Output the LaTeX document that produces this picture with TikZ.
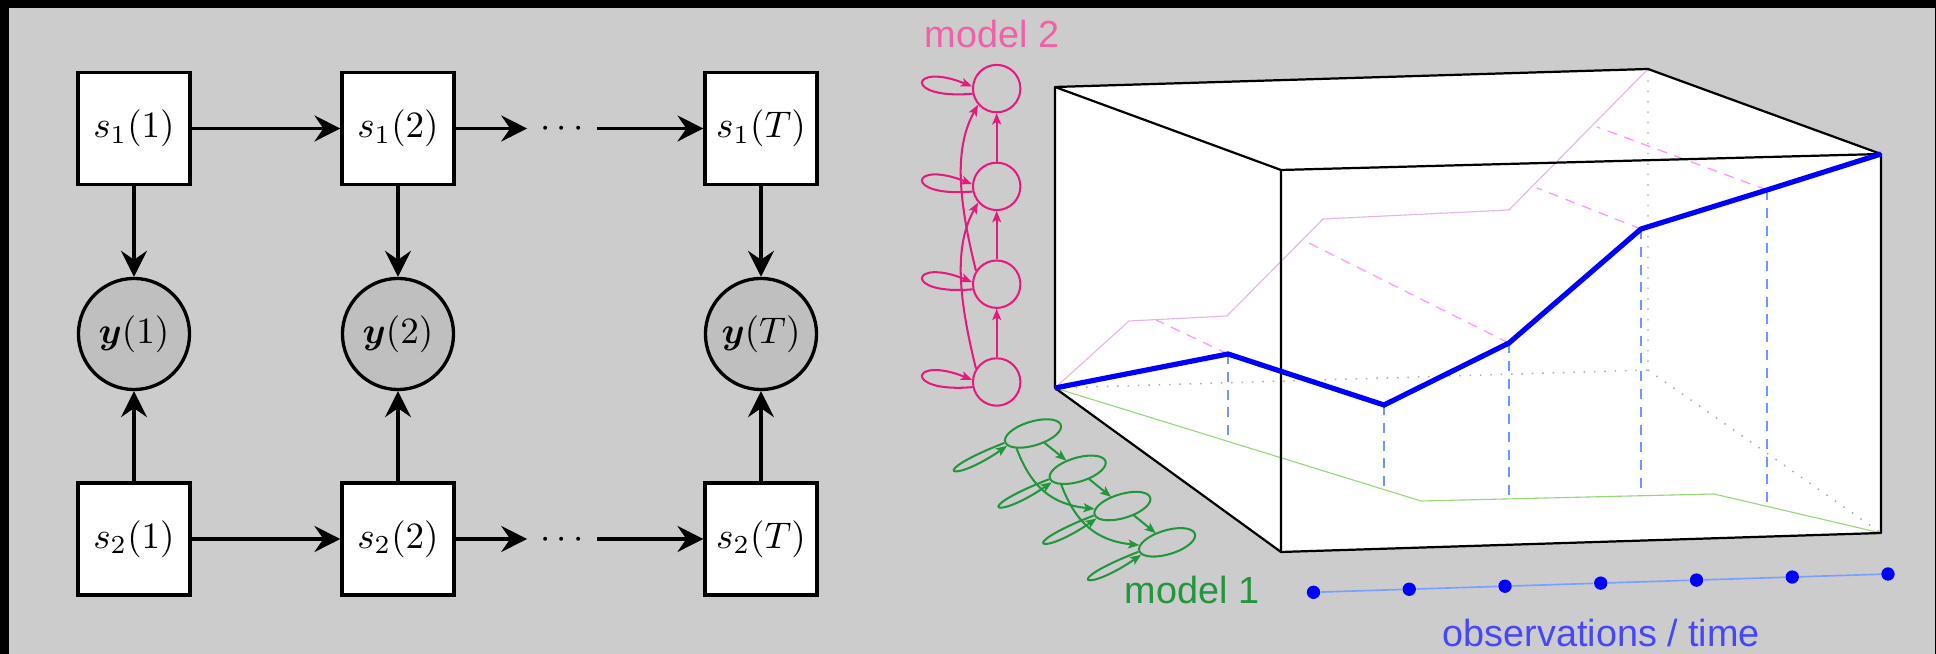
\documentclass[tikz,border=0pt]{standalone}
\usepackage{fontspec}
\usepackage{bm}
\usetikzlibrary{arrows.meta}
\newfontfamily\labelsans{Liberation Sans}

\definecolor{bggray}{RGB}{204,204,204}
\definecolor{obsgray}{RGB}{191,191,191}
\definecolor{mtwo}{RGB}{230,25,125}
\definecolor{mtwotext}{RGB}{242,96,168}
\definecolor{mone}{RGB}{34,150,60}
\definecolor{trajblue}{RGB}{0,0,255}
\definecolor{axisblue}{RGB}{120,160,255}
\definecolor{obstext}{RGB}{70,70,250}
\definecolor{projpink}{RGB}{230,180,230}
\definecolor{dashpink}{RGB}{255,150,255}
\definecolor{dashblue}{RGB}{110,150,255}
\definecolor{projgreen}{RGB}{150,215,120}
\definecolor{hiddengray}{RGB}{170,170,170}

\tikzset{
  statebox/.style={draw, line width=0.9pt, fill=white, minimum width=30.2pt,
    minimum height=30.2pt, inner sep=0pt},
  obsnode/.style={draw, circle, line width=0.9pt, fill=obsgray, minimum size=30pt,
    inner sep=0pt},
  bigarrow/.style={line width=0.9pt, -{Stealth[length=7pt,width=7pt,inset=2.4pt]}},
  ellipsisnode/.style={inner sep=0pt, minimum width=18.4pt, text height=5pt, text depth=0pt},
  mstate/.style={circle, draw, line width=0.55pt, minimum size=12.8pt, inner sep=0pt},
  marrow/.style={line width=0.55pt, -{Stealth[length=3pt,width=2.4pt,inset=0.7pt]}},
  selfloop/.style={marrow, out=185, in=158, out distance=19pt, in distance=18pt},
  skiparc/.style={marrow, out=104, in=241, out distance=22pt, in distance=12.5pt},
  cubeedge/.style={black, line width=0.6pt, line join=round},
  hiddenedge/.style={hiddengray, line width=0.4pt, dash pattern=on 0.4pt off 2.4pt},
  projline/.style={line width=0.3pt},
  dropline/.style={line width=0.35pt, dash pattern=on 2.7pt off 2.1pt},
  trajectory/.style={trajblue, line width=1.4pt},
  obsdot/.style={circle, fill=trajblue, minimum size=3.6pt, inner sep=0pt},
  sanslabel/.style={anchor=base west, inner sep=0pt,
    font=\labelsans\fontsize{10.2}{12}\selectfont},
}

% four-state chain with self loops and skip transitions, drawn in local coordinates
\newcommand{\modelgraph}[1]{%
  \node[mstate] (#1a) at (0,0) {};
  \node[mstate] (#1b) at (0,97.8) {};
  \node[mstate] (#1c) at (0,195.6) {};
  \node[mstate] (#1d) at (0,293.4) {};
  \draw[marrow] (#1a.north) -- (#1b.south);
  \draw[marrow] (#1b.north) -- (#1c.south);
  \draw[marrow] (#1c.north) -- (#1d.south);
  \draw[skiparc] (#1a.147) to (#1c.221);
  \draw[skiparc] (#1b.147) to (#1d.221);
  \draw[selfloop] (#1a.192) to (#1a.175);
  \draw[selfloop] (#1b.192) to (#1b.175);
  \draw[selfloop] (#1c.192) to (#1c.175);
  \draw[selfloop] (#1d.192) to (#1d.175);
}

\begin{document}
\begin{tikzpicture}[x=0.27pt, y=0.27pt]
\useasboundingbox (0,0) rectangle (1936,-654);
\fill[black] (0,0) rectangle (1936,-654);
\fill[bggray] (9,-8) rectangle (1935,-654);

% ---------------- coupled chains ----------------
\node[statebox] (sa1) at (134,-128.5) {$s_1(1)$};
\node[statebox] (sa2) at (398,-128.5) {$s_1(2)$};
\node[ellipsisnode] (sadots) at (562,-128.5) {$\cdots$};
\node[statebox] (saT) at (761,-128.5) {$s_1(T)$};

\node[obsnode] (y1) at (134,-334) {$\bm{y}(1)$};
\node[obsnode] (y2) at (398,-334) {$\bm{y}(2)$};
\node[obsnode] (yT) at (761,-334) {$\bm{y}(T)$};

\node[statebox] (sb1) at (134,-539) {$s_2(1)$};
\node[statebox] (sb2) at (398,-539) {$s_2(2)$};
\node[ellipsisnode] (sbdots) at (562,-539) {$\cdots$};
\node[statebox] (sbT) at (761,-539) {$s_2(T)$};

\draw[bigarrow] (sa1) -- (sa2);
\draw[bigarrow] (sa2) -- (sadots);
\draw[bigarrow] (sadots) -- (saT);
\draw[bigarrow] (sb1) -- (sb2);
\draw[bigarrow] (sb2) -- (sbdots);
\draw[bigarrow] (sbdots) -- (sbT);
\draw[bigarrow] (sa1) -- (y1);
\draw[bigarrow] (sa2) -- (y2);
\draw[bigarrow] (saT) -- (yT);
\draw[bigarrow] (sb1) -- (y1);
\draw[bigarrow] (sb2) -- (y2);
\draw[bigarrow] (sbT) -- (yT);

% ---------------- state space box ----------------
\coordinate (A) at (1055,-87);
\coordinate (B) at (1648,-69);
\coordinate (C) at (1281,-170);
\coordinate (D) at (1881,-154);
\coordinate (E) at (1055,-388);
\coordinate (F) at (1281,-552);
\coordinate (G) at (1881,-533);
\coordinate (H) at (1648,-370);

\fill[white] (A) -- (B) -- (D) -- (G) -- (F) -- (E) -- cycle;
\draw[hiddenedge] (E) -- (H) -- (B) (H) -- (G);

% projections of the path onto the back wall and the floor
\draw[projline, projpink] (E) -- (1129,-321) -- (1227,-316) -- (1323,-219)
  -- (1509,-210) -- (B);
\draw[projline, projgreen] (E) -- (1421,-501) -- (1714,-494) -- (G);

\coordinate (P1) at (1228,-354);
\coordinate (P2) at (1384,-405);
\coordinate (P3) at (1509,-343);
\coordinate (P4) at (1641,-229);
\coordinate (P5) at (1767,-190);

\draw[dropline, dashblue] (P1) -- (1228,-441);
\draw[dropline, dashblue] (P2) -- (1384,-489);
\draw[dropline, dashblue] (P3) -- (1509,-499);
\draw[dropline, dashblue] (P4) -- (1641,-494);
\draw[dropline, dashblue] (P5) -- (1767,-506);

\draw[dropline, dashpink] (P1) -- (1156,-320);
\draw[dropline, dashpink] (P3) -- (1307,-242);
\draw[dropline, dashpink] (P4) -- (1537,-188);
\draw[dropline, dashpink] (P5) -- (1597,-127);

\draw[cubeedge] (A) -- (B) -- (D) -- (C) -- cycle;
\draw[cubeedge] (A) -- (E) -- (F) -- (C);
\draw[cubeedge] (F) -- (G) -- (D);

\draw[trajectory] (E) -- (P1) -- (P2) -- (P3) -- (P4) -- (P5) -- (D);

% ---------------- the two chain models ----------------
\begin{scope}[shift={(996.7,-382)}, mtwo]
  \modelgraph{p}
\end{scope}
\begin{scope}[cm={1.092,0.472,0.457,-0.371,(1033,-433.5)}, transform shape, mone]
  \modelgraph{g}
\end{scope}

\node[sanslabel, text=mtwotext] (mtwolabel) at (924,-48) {model 2};
\node[sanslabel, text=mone] (monelabel) at (1124,-604) {model 1};

% ---------------- observation axis ----------------
\foreach \i in {1,...,7}
  \node[obsdot] (t\i) at ({1313.5+95.75*(\i-1)},{-592.3+3.05*(\i-1)}) {};
\draw[axisblue, line width=0.45pt] (t1) -- (t2) -- (t3) -- (t4) -- (t5) -- (t6) -- (t7);
\node[sanslabel, text=obstext] (obslabel) at (1442,-647) {observations / time};
\end{tikzpicture}
\end{document}
